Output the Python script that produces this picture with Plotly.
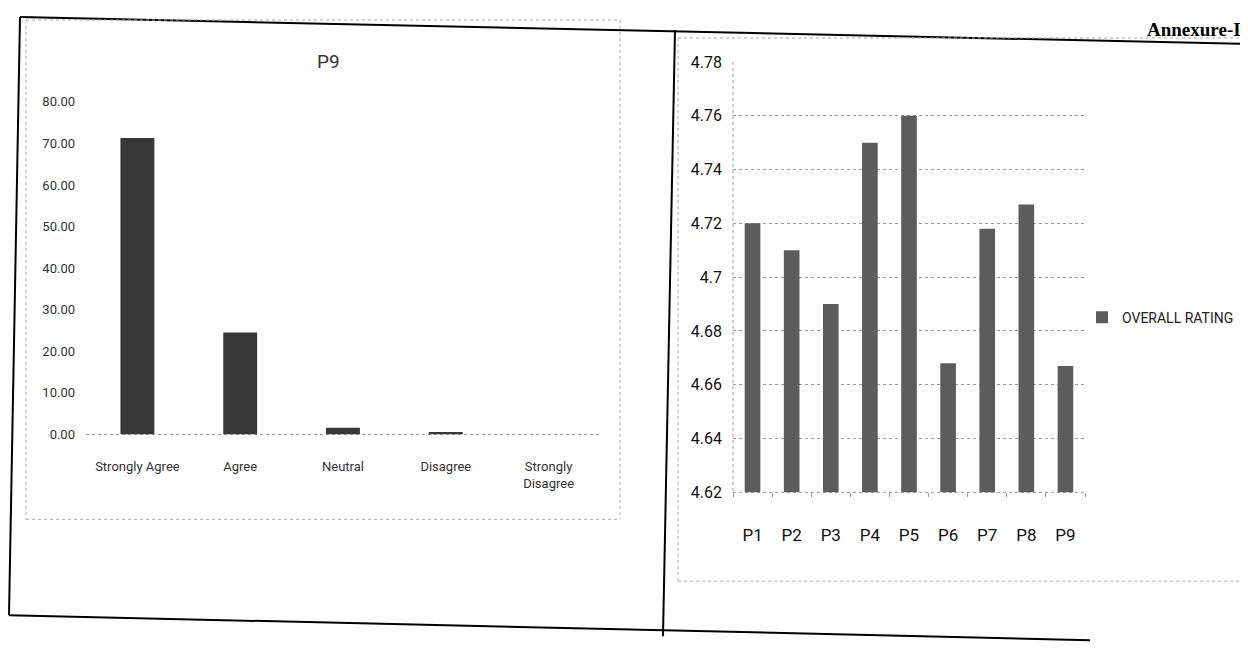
import plotly.graph_objects as go

# ---- data ----
left_categories = ["Strongly Agree", "Agree", "Neutral", "Disagree", "Strongly<br>Disagree"]
left_values = [71.3, 24.5, 1.6, 0.6, 0.0]
left_title = "P9"
left_tick_vals = [0, 10, 20, 30, 40, 50, 60, 70, 80]
left_tick_text = ["0.00", "10.00", "20.00", "30.00", "40.00", "50.00", "60.00", "70.00", "80.00"]

right_categories = ["P1", "P2", "P3", "P4", "P5", "P6", "P7", "P8", "P9"]
right_values = [4.72, 4.71, 4.69, 4.75, 4.76, 4.668, 4.718, 4.727, 4.667]
right_series = "OVERALL RATING"
right_tick_vals = [4.62, 4.64, 4.66, 4.68, 4.70, 4.72, 4.74, 4.76, 4.78]
right_tick_text = ["4.62", "4.64", "4.66", "4.68", "4.7", "4.72", "4.74", "4.76", "4.78"]

W, H = 1248, 648
FONT = "Roboto, Liberation Sans, sans-serif"

# placement of the figure inside the photographed window
OX, OY, SX, SY = 8.0, 17.0, 1.0, 0.972


def X(r):
    return min(max((r - OX) / SX / W, 0.0), 1.0)


def Y(r):
    return min(max(1 - (r - OY) / SY / H, 0.0), 1.0)


fig = go.Figure()
fig.add_trace(go.Bar(x=left_categories, y=left_values, xaxis="x", yaxis="y",
                     marker=dict(color="#383838", line=dict(width=0)),
                     width=0.33, showlegend=False))
fig.add_trace(go.Bar(x=right_categories, y=right_values, xaxis="x2", yaxis="y2",
                     name=right_series,
                     marker=dict(color="#5c5c5c", line=dict(width=0)),
                     width=0.4, showlegend=True))

shapes = []


def line(x0, y0, x1, y1, color="black", width=2, dash="solid", layer="above"):
    shapes.append(dict(type="line", xref="paper", yref="paper", layer=layer,
                       x0=X(x0), y0=Y(y0), x1=X(x1), y1=Y(y1),
                       line=dict(color=color, width=width, dash=dash)))


# outer scanned frame
line(20, 16, 1250, 44)
line(20, 16, 9, 616)
line(9, 616, 1090, 641)
line(675, 30, 663, 637)
# dotted chart borders
for (x0, y0, x1, y1) in [(26, 20, 620, 520), (678, 38, 1245, 582)]:
    line(x0, y0, x1, y0, "#aaaaaa", 1, "dot")
    line(x0, y1, x1, y1, "#aaaaaa", 1, "dot")
    line(x0, y0, x0, y1, "#aaaaaa", 1, "dot")
    line(x1, y0, x1, y1, "#aaaaaa", 1, "dot")
# dotted axis lines
line(733, 62, 733, 493, "#999999", 1, "dot")
line(86, 435, 600, 435, "#999999", 1, "dot", "below")
line(733, 493, 1085, 493, "#999999", 1, "dot", "below")

annotations = [
    dict(text=left_title, x=X(328), y=Y(62), xref="paper", yref="paper", showarrow=False,
         xanchor="center", yanchor="middle",
         font=dict(family=FONT, size=19, color="#333333")),
    dict(text="Annexure-I", x=X(1243), y=1, xref="paper", yref="paper", showarrow=False,
         xanchor="right", yanchor="top",
         font=dict(family="Liberation Serif, serif", size=19, color="black", weight="bold")),
]

fig.update_layout(
    width=W, height=H, autosize=False,
    margin=dict(l=0, r=0, t=0, b=0),
    paper_bgcolor="white", plot_bgcolor="white",
    font=dict(family=FONT, color="#222222"),
    xaxis=dict(domain=[X(86), X(600)], type="category", showline=False,
               ticks="", showgrid=False, tickfont=dict(size=13, color="#333"),
               ticklabelstandoff=23, anchor="y"),
    yaxis=dict(domain=[Y(435), Y(102)], range=[0, 80], tickvals=left_tick_vals,
               ticktext=left_tick_text, showgrid=False, zeroline=False, showline=False,
               tickfont=dict(size=13, color="#333"), ticklabelstandoff=10, anchor="x"),
    xaxis2=dict(domain=[X(733), X(1085)], type="category", showline=False,
                ticks="outside", ticklen=4, tickcolor="#999", tickson="boundaries",
                showgrid=False, tickfont=dict(size=17, color="#111"), ticklabelstandoff=31, anchor="y2"),
    yaxis2=dict(domain=[Y(493), Y(62)], range=[4.62, 4.78], tickvals=right_tick_vals,
                ticktext=right_tick_text, showgrid=True, gridcolor="#9a9a9a", griddash="dot",
                gridwidth=1, zeroline=False, showline=False, tickfont=dict(size=16, color="#111"),
                ticklabelstandoff=10, anchor="x2"),
    legend=dict(x=X(1082), y=Y(318), xanchor="left", yanchor="middle", bgcolor="rgba(0,0,0,0)",
                font=dict(size=14, color="#222"), itemwidth=30),
    shapes=shapes,
    annotations=annotations,
)

fig.write_html("out.html")
